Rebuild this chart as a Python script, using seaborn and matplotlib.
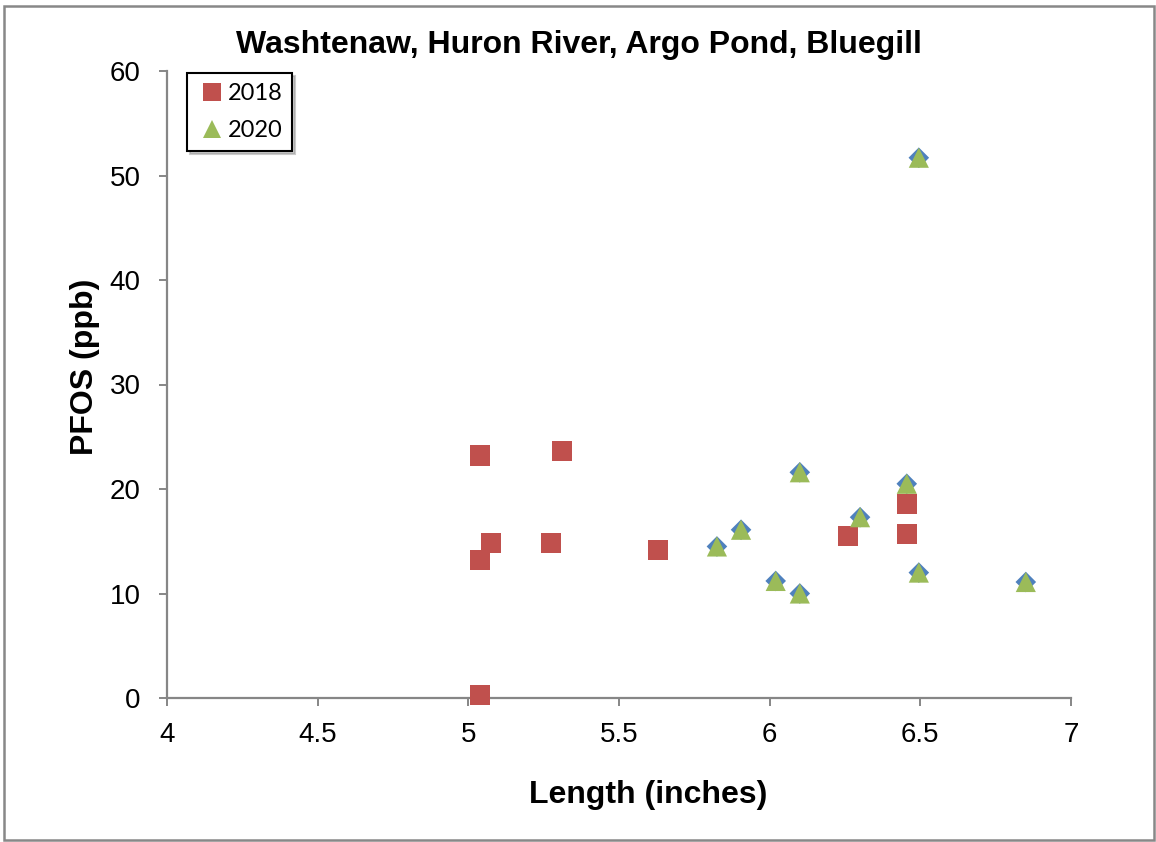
import matplotlib
matplotlib.use("Agg")
import matplotlib.pyplot as plt
import seaborn as sns
import pandas as pd
from matplotlib.patches import Rectangle

# ---- data ----
len_2018 = [5.04, 5.31, 5.075, 5.275, 5.04, 5.04, 5.63, 6.26, 6.455, 6.455]
pfos_2018 = [23.2, 23.6, 14.8, 14.8, 13.2, 0.3, 14.2, 15.5, 18.6, 15.7]
len_2020 = [6.495, 5.825, 5.905, 6.02, 6.10, 6.10, 6.30, 6.455, 6.495, 6.85]
pfos_2020 = [51.7, 14.5, 16.1, 11.2, 10.0, 21.6, 17.3, 20.5, 12.0, 11.1]
years = ["2018", "2020"]
x_ticks = [4, 4.5, 5, 5.5, 6, 6.5, 7]
x_tick_labels = ["4", "4.5", "5", "5.5", "6", "6.5", "7"]
y_ticks = [0, 10, 20, 30, 40, 50, 60]
title = "Washtenaw, Huron River, Argo Pond, Bluegill"
x_label = "Length (inches)"
y_label = "PFOS (ppb)"

df = pd.DataFrame({
    "Length": len_2018 + len_2020,
    "PFOS": pfos_2018 + pfos_2020,
    "Year": [years[0]] * len(len_2018) + [years[1]] * len(len_2020),
})
df_2020 = df[df["Year"] == years[1]]

RED = "#C0504D"
GREEN = "#9BBB59"
BLUE = "#4F81BD"
GRAY = "#868686"

sns.set_theme(style="white")
plt.rcParams["font.family"] = ["Liberation Sans", "DejaVu Sans"]
plt.rcParams["text.color"] = "black"
plt.rcParams["axes.labelcolor"] = "black"

fig = plt.figure(figsize=(11.56, 8.42), dpi=100)
ax = fig.add_axes([167 / 1156, 1 - 698 / 842, 904 / 1156, 627 / 842])

# hidden blue diamond series behind the 2020 triangles
sns.scatterplot(data=df_2020, x="Length", y="PFOS", marker="D", s=10.5 ** 2,
                color=BLUE, edgecolor="none", linewidth=0, legend=False, ax=ax,
                zorder=3)
sns.scatterplot(data=df, x="Length", y="PFOS", hue="Year", style="Year",
                markers={years[0]: "s", years[1]: "^"},
                palette={years[0]: RED, years[1]: GREEN},
                s=14.5 ** 2, edgecolor="none", linewidth=0, ax=ax, zorder=4)
for c in ax.collections:
    c.set_clip_on(False)

ax.set_xlim(4, 7)
ax.set_ylim(0, 60)
ax.set_xticks(x_ticks)
ax.set_xticklabels(x_tick_labels)
ax.set_yticks(y_ticks)
ax.set_xlabel("")
ax.set_ylabel("")

for s in ["top", "right"]:
    ax.spines[s].set_visible(False)
for s in ["left", "bottom"]:
    ax.spines[s].set_color(GRAY)
    ax.spines[s].set_linewidth(1.6)
    ax.spines[s].set_zorder(1)
ax.tick_params(axis="both", which="major", direction="out", length=6,
               width=1.4, color=GRAY, labelsize=20, labelcolor="black",
               bottom=True, left=True)
ax.tick_params(axis="x", pad=11)
ax.tick_params(axis="y", pad=13)

# legend
handles, labels = ax.get_legend_handles_labels()
leg = ax.legend(handles, labels, loc="upper left",
                bbox_to_anchor=(187 / 1156, 1 - 73 / 842),
                bbox_transform=fig.transFigure,
                frameon=True, fancybox=False, shadow={"color": "0.55", "alpha": 0.45},
                prop={"family": "Lato", "size": 17}, markerscale=0.85,
                handletextpad=0.05, handlelength=1.25, borderpad=0.42,
                labelspacing=0.68, borderaxespad=0)
leg.get_frame().set_edgecolor("black")
leg.get_frame().set_linewidth(1.5)
leg.set_title(None)
for t in leg.get_texts():
    t.set_color("black")

fig.text(0.501, 1 - 45 / 842, title, ha="center", va="center",
         fontsize=23, fontweight="bold", color="black")
fig.text(648.5 / 1156, 1 - 795 / 842, x_label, ha="center", va="center",
         fontsize=23, fontweight="bold", color="black")
fig.text(85 / 1156, 1 - 366.5 / 842, y_label, ha="center", va="center",
         rotation=90, fontsize=23, fontweight="bold", color="black")

fig.patches.append(Rectangle((4 / 1156, 2 / 842), 1150 / 1156, 834 / 842,
                             transform=fig.transFigure, fill=False,
                             edgecolor="#888888", linewidth=1.8))

fig.savefig("out.png", dpi=100)
